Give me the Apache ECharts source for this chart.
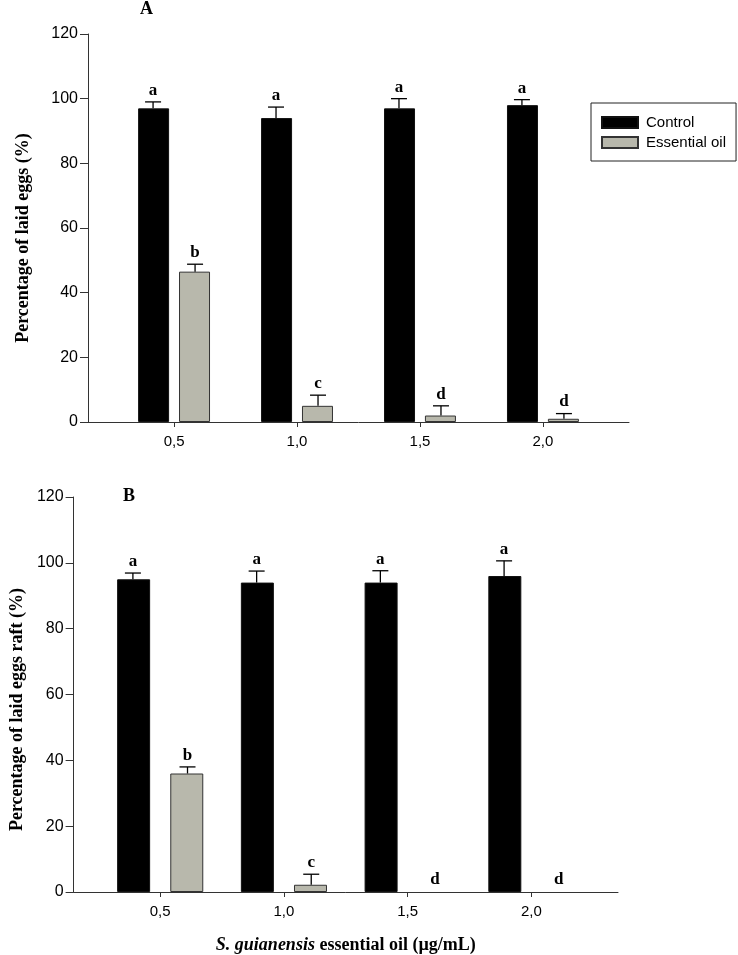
<!DOCTYPE html>
<html>
<head>
<meta charset="utf-8">
<script src="https://cdn.jsdelivr.net/npm/echarts@6/dist/echarts.min.js"></script>
<style>
html,body{margin:0;padding:0;background:#fff;}
#chart{width:738px;height:955px;}
</style>
</head>
<body>
<div id="chart"></div>
<script>
// ---- data ----
const categories = [0.5, 1.0, 1.5, 2.0];
const tickLabels = ['0,5', '1,0', '1,5', '2,0'];
const seriesNames = ['Control', 'Essential oil'];

// Panel A: Percentage of laid eggs (%)
const controlA = [97, 94, 97, 98];
const controlAErr = [2, 3.4, 3, 1.7];
const oilA = [46.5, 5, 2, 1];
const oilAErr = [2.3, 3.3, 3, 1.6];
const controlALetters = ['a', 'a', 'a', 'a'];
const oilALetters = ['b', 'c', 'd', 'd'];

// Panel B: Percentage of laid eggs raft (%)
const controlB = [95, 94, 94, 96];
const controlBErr = [1.9, 3.5, 3.6, 4.6];
const oilB = [36, 2.2, 0, 0];
const oilBErr = [2, 3.2, 0, 0];
const controlBLetters = ['a', 'a', 'a', 'a'];
const oilBLetters = ['b', 'c', 'd', 'd'];

// ---- styles ----
const SANS = '"Liberation Sans", Arial, sans-serif';
const SERIF = '"Liberation Serif", "Times New Roman", serif';
const AXIS_COLOR = '#333';
const CONTROL_COLOR = '#000000';
const OIL_COLOR = '#b8b8ac';

function barData(vals) {
  return categories.map((c, i) => vals[i] === 0
    ? { value: [c, 0], itemStyle: { borderWidth: 0, opacity: 0 } }
    : { value: [c, vals[i]] });
}

function errSeries(axisIdx, vals, errs, letters, offset) {
  return {
    type: 'custom',
    xAxisIndex: axisIdx, yAxisIndex: axisIdx,
    z: 5, silent: true,
    data: categories.map((c, i) => [c, vals[i] + errs[i]]),
    renderItem: function (params, api) {
      const i = params.dataIndex;
      const p0 = api.coord([categories[i], vals[i]]);
      const p1 = api.coord([categories[i], vals[i] + errs[i]]);
      const cx = p0[0] + offset;
      const children = [];
      if (errs[i] > 0) {
        children.push({ type: 'line', shape: { x1: cx, y1: p0[1], x2: cx, y2: p1[1] }, style: { stroke: '#000', lineWidth: 1.3 } });
        children.push({ type: 'line', shape: { x1: cx - 8, y1: p1[1], x2: cx + 8, y2: p1[1] }, style: { stroke: '#000', lineWidth: 1.3 } });
      }
      children.push({ type: 'text', style: { x: cx, y: p1[1] - (errs[i] > 0 ? 3 : 4), text: letters[i], align: 'center', verticalAlign: 'bottom', font: 'bold 17px ' + SERIF, fill: '#000' } });
      return { type: 'group', children: children };
    }
  };
}

function xAxisCfg(gridIdx, withName) {
  const cfg = {
    type: 'value', gridIndex: gridIdx, min: 0.15, max: 2.35,
    axisLine: { show: true, onZero: false, lineStyle: { color: AXIS_COLOR, width: 1 } },
    axisTick: { show: true, inside: false, length: 5, customValues: categories, lineStyle: { color: AXIS_COLOR } },
    axisLabel: { show: true, margin: 12, customValues: categories, fontFamily: SANS, fontSize: 15, color: '#000',
      formatter: function (v) { const k = categories.findIndex(c => Math.abs(c - v) < 1e-6); return k >= 0 ? tickLabels[k] : ''; } },
    splitLine: { show: false }
  };
  if (withName) {
    cfg.name = '{i|S. guianensis} essential oil (µg/mL)';
    cfg.nameLocation = 'middle';
    cfg.nameGap = 44;
    cfg.nameTextStyle = { fontFamily: SERIF, fontWeight: 'bold', fontSize: 18, color: '#000',
      rich: { i: { fontFamily: SERIF, fontWeight: 'bold', fontStyle: 'italic', fontSize: 18, color: '#000' } } };
  }
  return cfg;
}

function yAxisCfg(gridIdx, name, gap, shift) {
  return {
    type: 'value', gridIndex: gridIdx, min: 0, max: 120, interval: 20,
    name: name, nameLocation: 'middle', nameGap: gap,
    nameTextStyle: { fontFamily: SERIF, fontWeight: 'bold', fontSize: 18, color: '#000', padding: [0, shift, 0, 0] },
    axisLine: { show: true, lineStyle: { color: AXIS_COLOR, width: 1 } },
    axisTick: { show: true, inside: false, length: 8, lineStyle: { color: AXIS_COLOR } },
    axisLabel: { margin: 10, fontFamily: SANS, fontSize: 16, color: '#000' },
    splitLine: { show: false }
  };
}

function barSeries(axisIdx, name, vals, color, border, width, gap) {
  return {
    type: 'bar', name: name, xAxisIndex: axisIdx, yAxisIndex: axisIdx,
    data: barData(vals), barWidth: width, barGap: gap,
    itemStyle: { color: color, borderColor: border, borderWidth: 1 },
    emphasis: { disabled: true }
  };
}

const chart = echarts.init(document.getElementById('chart'), null, { renderer: 'canvas' });
chart.setOption({
  animation: false,
  backgroundColor: '#fff',
  title: [
    { text: 'A', left: 140, top: 0, padding: 0, textStyle: { fontFamily: SERIF, fontWeight: 'bold', fontSize: 18, color: '#000' } },
    { text: 'B', left: 123, top: 487, padding: 0, textStyle: { fontFamily: SERIF, fontWeight: 'bold', fontSize: 18, color: '#000' } }
  ],
  legend: {
    data: seriesNames, orient: 'vertical', left: 591, top: 103,
    padding: [12, 10, 11, 10], itemWidth: 36, itemHeight: 11, itemGap: 5,
    borderColor: '#222', borderWidth: 1, icon: 'rect',
    textStyle: { fontFamily: SANS, fontSize: 15, color: '#000', padding: [0, 0, 0, 3] }
  },
  grid: [
    { left: 88, right: 109, top: 34, bottom: 533 },
    { left: 64, right: 120, top: 497, bottom: 61 }
  ],
  xAxis: [xAxisCfg(0, false), xAxisCfg(1, true)],
  yAxis: [yAxisCfg(0, 'Percentage of laid eggs (%)', 56, 20), yAxisCfg(1, 'Percentage of laid eggs raft (%)', 47, 30)],
  series: [
    barSeries(0, seriesNames[0], controlA, CONTROL_COLOR, '#111', 31, '32%'),
    barSeries(0, seriesNames[1], oilA, OIL_COLOR, '#333', 31, '32%'),
    barSeries(1, seriesNames[0], controlB, CONTROL_COLOR, '#111', 33, '61%'),
    barSeries(1, seriesNames[1], oilB, OIL_COLOR, '#333', 33, '61%'),
    errSeries(0, controlA, controlAErr, controlALetters, -21),
    errSeries(0, oilA, oilAErr, oilALetters, 21),
    errSeries(1, controlB, controlBErr, controlBLetters, -27.3),
    errSeries(1, oilB, oilBErr, oilBLetters, 27.3)
  ]
});
</script>
</body>
</html>
